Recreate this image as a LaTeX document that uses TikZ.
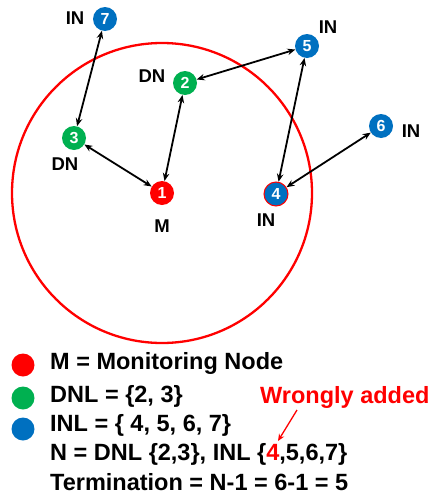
\documentclass[tikz,border=0pt]{standalone}
\usepackage{fontspec}
\setmainfont{Liberation Sans}
\usepackage{tikz}
\usetikzlibrary{shapes,arrows.meta}
\usetikzlibrary{positioning}
\definecolor{mred}{RGB}{255,0,0}
\definecolor{dgreen}{RGB}{0,176,80}
\definecolor{iblue}{RGB}{0,112,192}
\tikzset{every sensor/.style={circle,minimum size=24pt,inner sep=0pt,
    text=white,font=\bfseries\fontsize{16}{16}\selectfont},
  mnode/.style={every sensor,fill=mred},
  dnode/.style={every sensor,fill=dgreen},
  inode/.style={every sensor,fill=iblue},
  tag/.style={font=\bfseries\fontsize{18.5}{18.5}\selectfont,inner sep=0pt},
  dot/.style={circle,minimum size=23pt,inner sep=0pt},
  legend/.style={anchor=west,inner sep=0pt,font=\bfseries\fontsize{23.5}{23.5}\selectfont}
}

\begin{document}
\begin{tikzpicture}[x=1pt, y=-1pt, >={Stealth[length=8pt,width=6.5pt]}]
      \useasboundingbox (0,0) rectangle (433,498);
      \node[mnode]  (n_1) at (162,193) {1};
      \node[dnode]  (n_2) at (185,83)  {2};
      \node[dnode]  (n_3) at (74,138)  {3};
      \node[inode,draw=mred,line width=1pt] (n_4) at (276,194) {4};
      \node[inode]  (n_5) at (307,46)  {5};
      \node[inode]  (n_6) at (381,126) {6};
      \node[inode]  (n_7) at (105,19)  {7};

      \node[tag] (t_1) at (162,226) {M};
      \node[tag] (t_2) at (152,76)  {DN};
      \node[tag] (t_3) at (65,164)  {DN};
      \node[tag] (t_4) at (266,220) {IN};
      \node[tag] (t_5) at (328,27)  {IN};
      \node[tag] (t_6) at (411,131) {IN};
      \node[tag] (t_7) at (75,18)   {IN};

      \draw[mred, line width=2.3pt] (n_1.center) circle[radius=150pt];

      \path[<->, line width=1.8pt]
                (n_7) edge (n_3)
                (n_3) edge (n_1)
                (n_1) edge (n_2)
                (n_2) edge (n_5)
                (n_5) edge (n_4)
                (n_4) edge (n_6);

      % legend
      \node[dot,fill=mred]   (d_m) at (23,365) {};
      \node[dot,fill=dgreen] (d_d) at (23,398) {};
      \node[dot,fill=iblue]  (d_i) at (23,429) {};
      \node[legend] (l_1) at (50,363) {M = Monitoring Node};
      \node[legend] (l_2) at (50,396) {DNL = \{2, 3\}};
      \node[legend] (l_3) at (50,425) {INL = \{ 4, 5, 6, 7\}};
      \node[legend] (l_4) at (50,454) {N = DNL \{2,3\}, INL \{\textcolor{mred}{4},5,6,7\}};
      \node[legend] (l_5) at (50,482) {Termination = N-1 = 6-1 = 5};
      \node[legend,text=mred] (w) at (260,397) {Wrongly added};
      \coordinate (w_to) at (278,441);
      \draw[-{Stealth[length=7pt,width=6pt]}, mred, line width=1.3pt] (297,410) -- (w_to);
    \end{tikzpicture}
\end{document}
